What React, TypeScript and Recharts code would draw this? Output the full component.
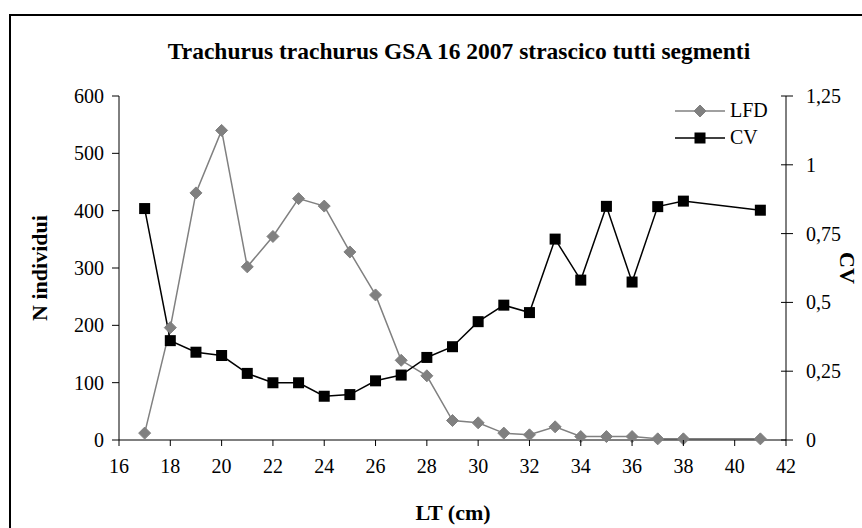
import { Line, LineChart, XAxis, YAxis } from 'recharts';

const LT = [17, 18, 19, 20, 21, 22, 23, 24, 25, 26, 27, 28, 29, 30, 31, 32, 33, 34, 35, 36, 37, 38, 41];
const LFD = [12, 196, 431, 540, 302, 355, 421, 408, 328, 253, 139, 112, 34, 30, 12, 9, 23, 6, 6, 6, 2, 2, 2];
const CV = [0.841, 0.361, 0.319, 0.307, 0.242, 0.208, 0.208, 0.159, 0.165, 0.215, 0.236, 0.3, 0.339, 0.43, 0.49, 0.463, 0.73, 0.581, 0.849, 0.574, 0.848, 0.868, 0.835];

const X_TICKS = [16, 18, 20, 22, 24, 26, 28, 30, 32, 34, 36, 38, 40, 42];
const LEFT_TICKS = [0, 100, 200, 300, 400, 500, 600];
const RIGHT_TICKS = [0, 0.25, 0.5, 0.75, 1, 1.25];

const data = LT.map((lt, i) => ({ lt, lfd: LFD[i], cv: CV[i] }));

const FONT = '"Liberation Serif", "Times New Roman", serif';
const GRAY = '#808080';
const TICK_FS = 20;

const commaFmt = (v: number) => String(v).replace('.', ',');

function Diamond(props: any) {
  const { cx, cy } = props;
  if (cx == null || cy == null) return null;
  const r = 6;
  return (
    <path
      d={`M${cx},${cy - r} L${cx + r},${cy} L${cx},${cy + r} L${cx - r},${cy} Z`}
      fill={GRAY}
      stroke={GRAY}
    />
  );
}

function Square(props: any) {
  const { cx, cy } = props;
  if (cx == null || cy == null) return null;
  const s = 5.5;
  return <rect x={cx - s} y={cy - s} width={s * 2} height={s * 2} fill="#000" />;
}

// left axis tick: short mark pointing out, label right-aligned
function LeftTick(props: any) {
  const { x, y, payload } = props;
  return (
    <g>
      <line x1={x - 7} y1={y} x2={x} y2={y} stroke="#000" />
      <text x={x - 15} y={y} dy="0.35em" textAnchor="end" fontSize={TICK_FS} fontFamily={FONT} fill="#000">
        {payload.value}
      </text>
    </g>
  );
}

// right axis tick: mark crosses the axis
function RightTick(props: any) {
  const { x, y, payload } = props;
  return (
    <g>
      <line x1={x - 5} y1={y} x2={x + 7} y2={y} stroke="#000" />
      <text x={x + 20} y={y} dy="0.35em" textAnchor="start" fontSize={TICK_FS} fontFamily={FONT} fill="#000">
        {commaFmt(payload.value)}
      </text>
    </g>
  );
}

function BottomTick(props: any) {
  const { x, y, payload } = props;
  return (
    <g>
      <line x1={x} y1={y} x2={x} y2={y + 6} stroke="#000" />
      <text x={x} y={y + 33} textAnchor="middle" fontSize={TICK_FS} fontFamily={FONT} fill="#000">
        {payload.value}
      </text>
    </g>
  );
}

function LegendBox() {
  return (
    <svg width={90} height={50} style={{ overflow: 'visible', display: 'block' }}>
      <line x1={0} y1={16} x2={50} y2={16} stroke={GRAY} strokeWidth={1.5} />
      <Diamond cx={25} cy={16} />
      <text x={55} y={22} fontSize={TICK_FS} fontFamily={FONT}>LFD</text>
      <line x1={0} y1={43} x2={50} y2={43} stroke="#000" strokeWidth={1.5} />
      <Square cx={25} cy={43} />
      <text x={55} y={49} fontSize={TICK_FS} fontFamily={FONT}>CV</text>
    </svg>
  );
}

const labelStyle = {
  position: 'absolute' as const,
  fontWeight: 'bold' as const,
  fontSize: 22,
  whiteSpace: 'nowrap' as const,
  lineHeight: 1,
};

export default function App() {
  return (
    <div style={{ position: 'absolute', left: 0, top: 0, width: 862, height: 528, background: '#fff', fontFamily: FONT, overflow: 'hidden' }}>
      <div
        style={{
          position: 'absolute',
          left: 9,
          top: 14,
          width: 880,
          height: 540,
          border: '2px solid #000',
          boxSizing: 'border-box',
        }}
      />
      <div style={{ ...labelStyle, left: 459, top: 52, fontSize: 23.5, transform: 'translate(-50%, -50%)' }}>
        Trachurus trachurus GSA 16 2007 strascico tutti segmenti
      </div>
      <div style={{ ...labelStyle, left: 40, top: 268, transform: 'translate(-50%, -50%) rotate(-90deg)' }}>
        N individui
      </div>
      <div style={{ ...labelStyle, left: 847, top: 268, transform: 'translate(-50%, -50%) rotate(90deg)' }}>
        CV
      </div>
      <div style={{ ...labelStyle, left: 453, top: 513, transform: 'translate(-50%, -50%)' }}>
        LT (cm)
      </div>
      <div style={{ position: 'absolute', left: 0, top: 0 }}>
        <LineChart
          width={862}
          height={528}
          data={data}
          margin={{ top: 96, right: 16, bottom: 48, left: 59 }}
          style={{ fontFamily: FONT }}
        >
          <XAxis
            dataKey="lt"
            type="number"
            domain={[16, 42]}
            ticks={X_TICKS}
            interval={0}
            height={40}
            stroke="#000"
            tickLine={false}
            tickSize={0}
            tickMargin={0}
            tick={<BottomTick />}
          />
          <YAxis
            yAxisId="left"
            domain={[0, 600]}
            ticks={LEFT_TICKS}
            interval={0}
            width={60}
            stroke="#000"
            tickLine={false}
            tickSize={0}
            tickMargin={0}
            tick={<LeftTick />}
          />
          <YAxis
            yAxisId="right"
            orientation="right"
            domain={[0, 1.25]}
            ticks={RIGHT_TICKS}
            interval={0}
            width={60}
            stroke="#000"
            tickLine={false}
            tickSize={0}
            tickMargin={0}
            tick={<RightTick />}
          />
          <Line
            yAxisId="left"
            dataKey="lfd"
            name="LFD"
            stroke={GRAY}
            strokeWidth={1.5}
            dot={<Diamond />}
            activeDot={false}
            isAnimationActive={false}
          />
          <Line
            yAxisId="right"
            dataKey="cv"
            name="CV"
            stroke="#000"
            strokeWidth={1.5}
            dot={<Square />}
            activeDot={false}
            isAnimationActive={false}
          />
        </LineChart>
      </div>
      <div style={{ position: 'absolute', left: 675, top: 95 }}>
        <LegendBox />
      </div>
    </div>
  );
}
